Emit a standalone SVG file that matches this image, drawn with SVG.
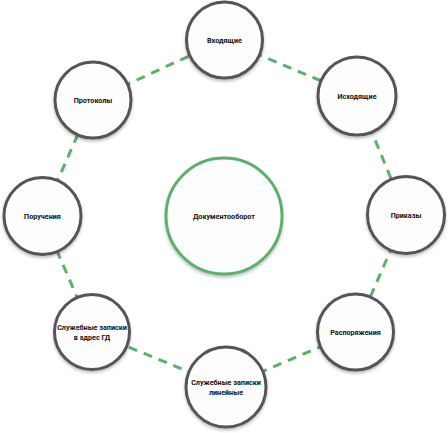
<svg xmlns="http://www.w3.org/2000/svg" width="448" height="433" viewBox="0 0 448 433">
<defs>
<filter id="sh" x="-20%" y="-20%" width="140%" height="150%">
<feDropShadow dx="0" dy="2" stdDeviation="1.5" flood-color="#000" flood-opacity="0.25"/>
</filter>
<style>
.n{fill:#fdfdfd;stroke:#555;stroke-width:3;filter:url(#sh)}
.c{fill:#fdfdfd;stroke:#5bb06d;stroke-width:3;filter:url(#sh)}
.t{font-family:Roboto,"Liberation Sans",sans-serif;font-weight:700;font-size:7.2px;fill:#111;text-anchor:middle}
.e{stroke:#5bb06d;stroke-width:3;stroke-dasharray:9 7;fill:none}
</style>
</defs>
<rect width="448" height="433" fill="#fff"/>
<g id="connectors">
<line class="e" x1="224" y1="40" x2="357" y2="96"/>
<line class="e" x1="357" y1="96" x2="406" y2="215"/>
<line class="e" x1="406" y1="215" x2="355" y2="332"/>
<line class="e" x1="355" y1="332" x2="226" y2="387"/>
<line class="e" x1="226" y1="387" x2="92" y2="332"/>
<line class="e" x1="92" y1="332" x2="42" y2="216"/>
<line class="e" x1="42" y1="216" x2="93" y2="100"/>
<line class="e" x1="93" y1="100" x2="224" y2="40"/>
</g>
<g id="center"><circle class="c" cx="224" cy="216" r="58"/><text class="t" x="224" y="219">Документооборот</text></g>
<g id="vhod"><circle class="n" cx="224.5" cy="40" r="38"/><text class="t" x="224.5" y="43">Входящие</text></g>
<g id="ishod"><circle class="n" cx="357" cy="96" r="39"/><text class="t" x="357" y="99">Исходящие</text></g>
<g id="prikazy"><circle class="n" cx="406" cy="215" r="38.5"/><text class="t" x="406" y="218">Приказы</text></g>
<g id="rasp"><circle class="n" cx="355.5" cy="332" r="38"/><text class="t" x="355.5" y="335">Распоряжения</text></g>
<g id="slin"><circle class="n" cx="226" cy="387" r="40"/><text class="t" x="226" y="385">Служебные записки</text><text class="t" x="226" y="395">линейные</text></g>
<g id="sgd"><circle class="n" cx="92" cy="332" r="37.5"/><text class="t" x="92" y="330">Служебные записки</text><text class="t" x="92" y="340">в адрес ГД</text></g>
<g id="poruch"><circle class="n" cx="42.5" cy="216" r="38.5"/><text class="t" x="42.5" y="219">Поручения</text></g>
<g id="protokoly"><circle class="n" cx="93" cy="100" r="38"/><text class="t" x="93" y="103">Протоколы</text></g>
</svg>
